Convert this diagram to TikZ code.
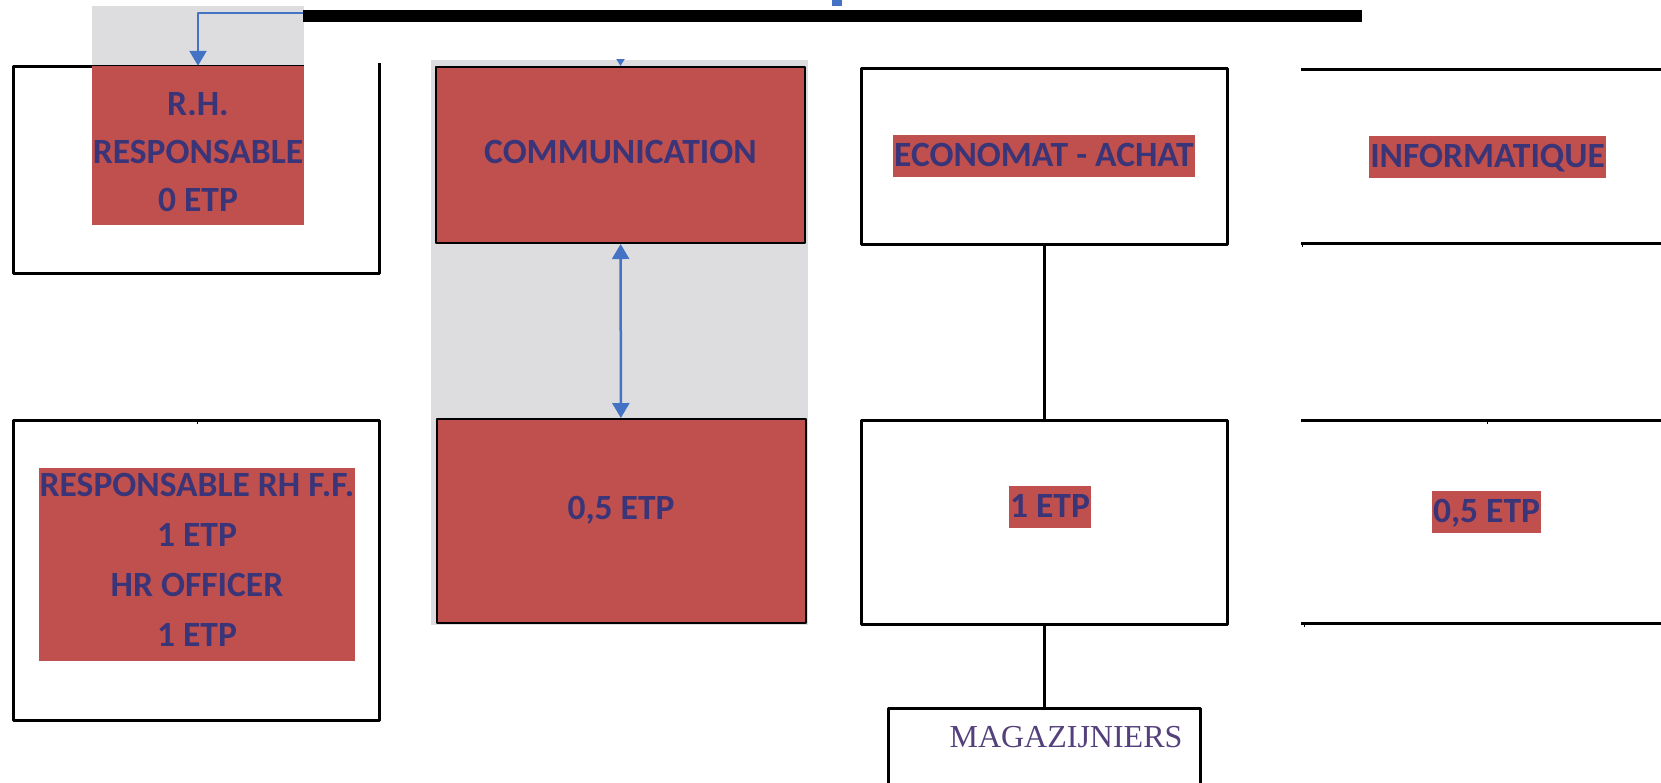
\documentclass[tikz,border=0pt]{standalone}
\usepackage{fontspec}
\setmainfont{Carlito}
\newfontfamily\magserif{Liberation Serif}
\usetikzlibrary{positioning,arrows.meta}
\definecolor{tagred}{RGB}{192,80,77}
\definecolor{tagtext}{RGB}{58,52,120}
\definecolor{linkblue}{RGB}{68,114,196}
\definecolor{panelgrey}{RGB}{221,221,223}
\definecolor{magpurple}{RGB}{84,64,122}

\begin{document}
\begin{tikzpicture}[x=1pt, y=-1pt, line join=round, >={Triangle[length=15pt,width=17pt]}]
	\tikzset{every node/.style={font=\bfseries\fontsize{35.5}{48}\selectfont, text=tagtext, inner sep=0pt},
		redtag/.style={fill=tagred, inner xsep=1.5pt, text height=31pt, text depth=11pt},
		redpanel/.style={fill=tagred},
		unitbox/.style={draw=black, line width=3pt, minimum width=366pt},
		commbox/.style={fill=tagred, draw=black, line width=2pt, minimum width=369pt},
		link/.style={draw=black, line width=3pt},
		bluelink/.style={draw=linkblue, line width=2.5pt}}
	\useasboundingbox (0,0) rectangle (1661,782);
	\clip (0,0) rectangle (1661,782);
	% grey backgrounds
	\fill[panelgrey] (92,6) rectangle (304,66);
	\fill[panelgrey] (431,60) rectangle (808,625);
	\fill[linkblue] (832,0) rectangle (842,6);
	\node (bar) [fill=black, minimum width=1059pt, minimum height=12pt] at (832.5,16) {};
	% R.H.
	\draw[link] (379,63) -- (379,273) -- (13,273) -- (13,66) -- (304,66);
	\node (rh) [redpanel, minimum width=212pt, minimum height=159pt] at (198,145.5) {};
	\node (rhtext) [align=center] at (198,152) {R.H.\\RESPONSABLE\\0 ETP};
	\draw[bluelink,->] ([yshift=3pt]bar.west) -| (rh.north);
	\draw[link] (13,420) rectangle (379,720);
	\draw[line width=1pt] (197,420) -- (197,424);
	\node (rhff) [redpanel, minimum width=316pt, minimum height=193pt] at (197,564.5) {};
	\node (rhfftext) [align=center, font=\bfseries\fontsize{35.5}{50}\selectfont] at (197,560) {RESPONSABLE RH F.F.\\1 ETP\\HR OFFICER\\1 ETP};
	% communication
	\node (comm) [commbox, minimum height=176pt, text depth=7pt] at (620.5,155) {COMMUNICATION};
	\node (commfte) [commbox, minimum height=204pt] at (621,521) {};
	\node (commftetext) at ([yshift=11pt]commfte.center) {0,5 ETP};
	\draw[bluelink,-{Triangle[length=7pt,width=8pt]}] ([yshift=7pt]comm.north) -- (comm.north);
	\draw[bluelink,<->] (comm) -- (commfte);
	% economat
	\node (econ) [unitbox, minimum height=176pt] at (1044,156) {};
	\node (econtag) [redtag] at (econ.center) {ECONOMAT - ACHAT};
	\node (econfte) [unitbox, minimum height=204pt] at (1044,522) {};
	\node (econftetag) [redtag] at (1050,507) {1 ETP};
	\node (mag) [unitbox, minimum width=312pt, minimum height=120pt, anchor=north] at (1044,707) {};
	\node (magtext) [font=\magserif\fontsize{32}{38}\selectfont, text=magpurple] at (1066,737) {MAGAZIJNIERS};
	\draw[link] (econ) -- (econfte);
	\draw[link] (econfte) -- (mag);
	% informatique
	\draw[link] (1301,69) -- (1661,69);
	\draw[link] (1301,243) -- (1661,243);
	\draw[line width=1pt] (1302,243) -- (1302,247);
	\node (info) [redtag] at (1487.5,157) {INFORMATIQUE};
	\draw[link] (1301,420) -- (1661,420);
	\draw[link] (1301,623) -- (1661,623);
	\draw[line width=1pt] (1487,420) -- (1487,424);
	\draw[line width=1pt] (1304,623) -- (1304,627);
	\node (infofte) [redtag] at (1486.5,512) {0,5 ETP};
\end{tikzpicture}
\end{document}
